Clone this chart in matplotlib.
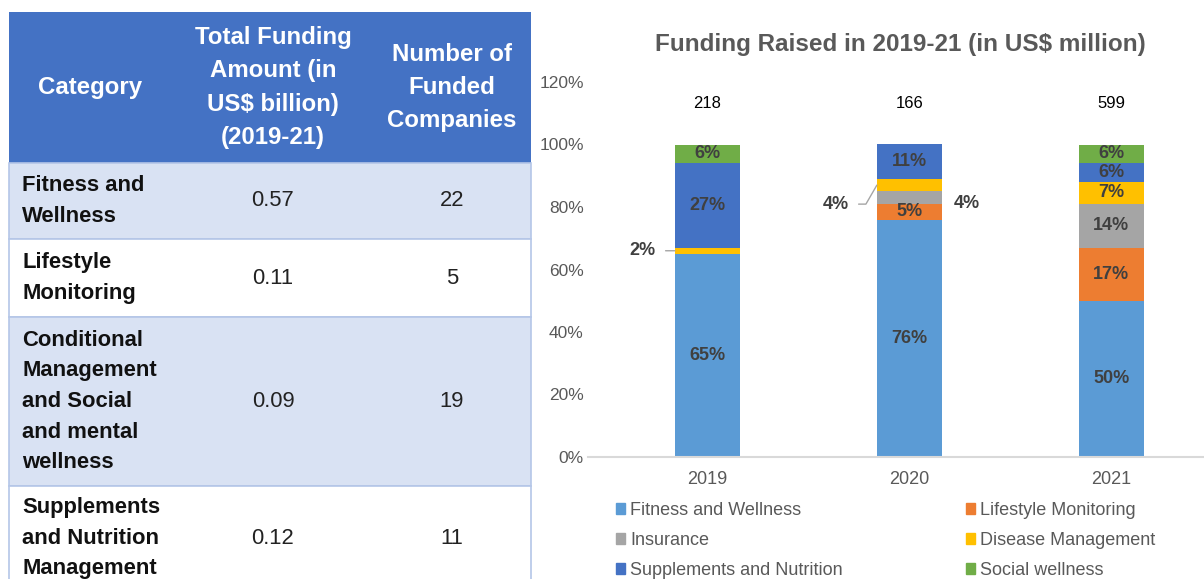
import matplotlib.pyplot as plt
from matplotlib.patches import Rectangle, Patch

plt.rcParams['font.family'] = ['Liberation Sans', 'DejaVu Sans']

# ---- table data ----
header = ["Category", "Total Funding\nAmount (in\nUS$ billion)\n(2019-21)", "Number of\nFunded\nCompanies"]
categories = ["Fitness and\nWellness", "Lifestyle\nMonitoring",
              "Conditional\nManagement\nand Social\nand mental\nwellness",
              "Supplements\nand Nutrition\nManagement"]
funding_bn = [0.57, 0.11, 0.09, 0.12]
funded_companies = [22, 5, 19, 11]

# ---- chart data (share of funding per year, %) ----
years = ["2019", "2020", "2021"]
totals = [218, 166, 599]
series = ["Fitness and Wellness", "Lifestyle Monitoring", "Insurance",
          "Disease Management", "Supplements and Nutrition", "Social wellness"]
fitness = [65, 76, 50]
lifestyle = [0, 5, 17]
insurance = [0, 4, 14]
disease = [2, 4, 7]
supplements = [27, 11, 6]
social = [6, 0, 6]
colors = ['#5B9BD5', '#ED7D31', '#A5A5A5', '#FFC000', '#4472C4', '#70AD47']

# small labels placed outside the bar: (series, year) -> side, pixel offset, leader line
callouts = {
    (3, 0): ('left', (-19, 0), 'arc3'),
    (3, 1): ('left', (-28, -19), 'angle,angleA=0,angleB=60,rad=0'),
    (2, 1): ('right', (12, -6), None),
}

W, H = 1204, 579
fig = plt.figure(figsize=(W / 100, H / 100), dpi=100)

# ---- table drawn in pixel coordinates ----
bg = fig.add_axes([0, 0, 1, 1])
bg.set_xlim(0, W)
bg.set_ylim(H, 0)
bg.axis('off')

tab_l, tab_r = 9, 531
col_x = [90, 273, 452]
edges = [12, 163, 239, 317, 486, 590]

bg.add_patch(Rectangle((tab_l, edges[0]), tab_r - tab_l, edges[1] - edges[0],
                       facecolor='#4472C4', edgecolor='none'))
for j, h in enumerate(header):
    bg.text(col_x[j], (edges[0] + edges[1]) / 2, h, ha='center', va='center',
            fontsize=17.3, fontweight='bold', color='white', linespacing=1.58)

for k, (cat, f, n) in enumerate(zip(categories, funding_bn, funded_companies)):
    top, bot = edges[k + 1], edges[k + 2]
    fc = '#D9E2F3' if k % 2 == 0 else 'white'
    bg.add_patch(Rectangle((tab_l, top), tab_r - tab_l, bot - top,
                           facecolor=fc, edgecolor='#B4C6E7', lw=1.2))
    yc = (top + bot) / 2
    bg.text(22, yc, cat, ha='left', va='center', fontsize=15.8, fontweight='bold',
            color='#111111', linespacing=1.6)
    bg.text(col_x[1], yc, f"{f:.2f}", ha='center', va='center', fontsize=15.8, color='#222222')
    bg.text(col_x[2], yc, str(n), ha='center', va='center', fontsize=15.8, color='#222222')

# ---- stacked bar chart ----
ax = fig.add_axes([588 / W, (H - 457) / H, 642.4 / W, 375 / H])
values = [fitness, lifestyle, insurance, disease, supplements, social]
x = list(range(len(years)))
width = 0.32
bottom = [0] * len(years)
for s, (vals, c) in enumerate(zip(values, colors)):
    ax.bar(x, [v / 100 for v in vals], width, bottom=bottom, color=c, label=series[s])
    for i, v in enumerate(vals):
        ymid = bottom[i] + v / 200
        if (s, i) in callouts:
            side, off, conn = callouts[(s, i)]
            if side == 'left':
                ax.annotate(f"{v}%", xy=(i - width / 2, ymid), xytext=off,
                            textcoords='offset pixels', ha='right', va='center',
                            fontsize=13, fontweight='bold', color='#404040',
                            arrowprops=dict(arrowstyle='-', color='#A5A5A5', lw=1,
                                            connectionstyle=conn, relpos=(1, 0.5),
                                            shrinkA=5, shrinkB=0))
            else:
                ax.annotate(f"{v}%", xy=(i + width / 2, ymid), xytext=off,
                            textcoords='offset pixels', ha='left', va='center',
                            fontsize=13, fontweight='bold', color='#404040')
        elif v > 0:
            ax.text(i, ymid, f"{v}%", ha='center', va='center', fontsize=13,
                    fontweight='bold', color='#404040')
    bottom = [b + v / 100 for b, v in zip(bottom, vals)]

for i, t in enumerate(totals):
    ax.annotate(str(t), xy=(i, bottom[i]), xytext=(0, 41), textcoords='offset pixels',
                ha='center', va='center', fontsize=12, color='black')

ax.set_xlim(-0.59, 2.59)
ax.set_ylim(0, 1.2)
yt = [0, 0.2, 0.4, 0.6, 0.8, 1.0, 1.2]
ax.set_yticks(yt)
ax.set_yticklabels([f"{round(v * 100)}%" for v in yt])
ax.set_xticks(x)
ax.set_xticklabels(years)
ax.tick_params(axis='y', length=0, pad=3, labelsize=12.5, labelcolor='#595959')
ax.tick_params(axis='x', length=0, pad=10, labelsize=13, labelcolor='#595959')
for sp in ['top', 'right', 'left']:
    ax.spines[sp].set_visible(False)
ax.spines['bottom'].set_color('#D9D9D9')
ax.spines['bottom'].set_linewidth(1.5)

fig.text(900 / W, 1 - 44 / H, "Funding Raised in 2019-21 (in US$ million)",
         ha='center', va='center', fontsize=17.5, fontweight='bold', color='#595959')

# legend in row-major order (matplotlib fills columns first)
handles = [Patch(color=c) for c in colors]
order = [0, 2, 4, 1, 3, 5]
ax.legend([handles[k] for k in order], [series[k] for k in order],
          loc='upper left', bbox_to_anchor=(616 / W, 1 - 502 / H),
          bbox_transform=fig.transFigure, ncol=2, frameon=False, fontsize=13,
          labelcolor='#595959', handlelength=0.5, handleheight=0.5,
          handletextpad=0.3, columnspacing=6.8, labelspacing=0.72,
          borderpad=0, borderaxespad=0)

fig.savefig('out.png', dpi=100)
